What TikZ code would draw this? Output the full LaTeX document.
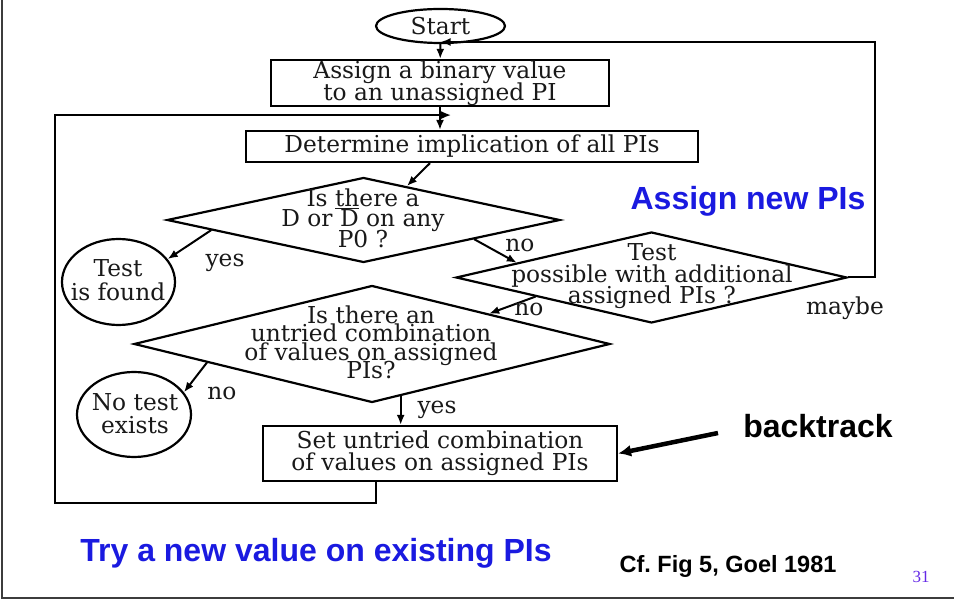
\documentclass[tikz,border=0pt]{standalone}
\usepackage{fontspec}
\newfontfamily\slidesans{Liberation Sans}
\newfontfamily\slideserif{Liberation Serif}
\newfontfamily\flowserif{DejaVu Serif}
\usetikzlibrary{arrows.meta,shapes.geometric,calc}
\definecolor{slideblue}{RGB}{26,26,224}
\definecolor{pagenum}{RGB}{100,40,230}
\definecolor{frameline}{RGB}{60,60,60}
\definecolor{flowink}{RGB}{25,25,25}
% flowchart text: tight leading that is allowed to overlap
\newcommand\flowfont[1][22]{\flowserif\fontsize{23.3}{#1}\selectfont\lineskiplimit=-100pt\lineskip=0pt}

\begin{document}
\begin{tikzpicture}[x=1pt,y=-1pt,
  flow/.style={line width=2.2pt,draw=black},
  proc/.style={flow,rectangle,inner sep=0pt,font=\flowfont,text=flowink,align=center},
  term/.style={flow,ellipse,inner sep=0pt},
  dec/.style={flow,diamond,inner sep=0pt},
  ftext/.style={font=\flowfont[#1],text=flowink,align=center,inner sep=0pt},
  ftext/.default=22,
  lbl/.style={font=\flowfont,text=flowink,inner sep=0pt},
  conn/.style={line width=2pt,-{Latex[length=10pt,width=8pt]}},
  note/.style={font=\slidesans\bfseries\fontsize{32}{35}\selectfont,text=slideblue,inner sep=0pt},
]
\useasboundingbox (0,0) rectangle (954,601);

% slide frame
\draw[frameline,line width=1.5pt] (2,0) -- (2,598) -- (954,598);

% flowchart nodes
\node[term,minimum width=129pt,minimum height=34pt] (start) at (440.5,26) {};
\node[ftext] (startt) at (440.5,26) {Start};
\node[proc,minimum width=338pt,minimum height=46pt] (assign) at (440,83)
  {Assign a binary value\\to an unassigned PI};
\node[proc,minimum width=452pt,minimum height=31pt] (imply) at (472,146.5)
  {Determine implication of all PIs};

\node[dec,minimum width=393pt,minimum height=85pt] (d1) at (363.5,220) {};
\node[ftext=20.5] (d1t) at (363,218)
  {Is \underline{th}ere a\\D or $\overline{\hbox{D}}$ on any\\P0 ?};

\node[dec,minimum width=391pt,minimum height=91pt] (d2) at (651.5,277.5) {};
\node[ftext=21.5] (d2t) at (652,276.5)
  {Test\\possible with additional\\assigned PIs ?};

\node[dec,minimum width=476pt,minimum height=117pt] (d3) at (372,344) {};
\node[ftext=18.5] (d3t) at (371,342.5)
  {Is there an\\untried combination\\of values on assigned\\PIs?};

\node[term,minimum width=113pt,minimum height=86pt] (found) at (118.5,282) {};
\node[ftext=24] (foundt) at (118,280.5) {Test\\is found};

\node[term,minimum width=114pt,minimum height=85pt] (noexist) at (134,414.5) {};
\node[ftext=23] (noexistt) at (135,413.5) {No test\\exists};

\node[proc,minimum width=354pt,minimum height=55pt] (retry) at (440,453.5)
  {Set untried combination\\of values on assigned PIs};

% helper points for the loops
\coordinate (join) at ($(assign.south)!0.35!(imply.north)$);
\coordinate (loopcorner) at (55,503);
\coordinate (maybecorner) at (875,42);
\coordinate (d3yes) at ($(d3.south)!0.12!(d3.east)$);

% connectors
\draw[conn] (start) -- (assign);
\draw[conn] (assign.south) -- (assign.south |- imply.north);
\draw[conn] ([xshift=-42pt]imply.south) -- ($(d1.north)!0.22!(d1.east)$);
\draw[conn] ($(d1.west)!0.23!(d1.south)$) -- (found.25);
\draw[conn] ($(d1.south)!0.56!(d1.east)$) -- ($(d2.west)!0.315!(d2.north)$);
\draw[conn] ($(d2.west)!0.41!(d2.south)$) -- ($(d3.north)!0.49!(d3.east)$);
\draw[conn] ($(d3.west)!0.31!(d3.south)$) -- (noexist.24);
\draw[conn] (d3yes) -- (d3yes |- retry.north);
\draw[conn] (d2.east) -| (maybecorner) -- (maybecorner -| start.south);
\draw[conn] ([xshift=-64pt]retry.south) |- (loopcorner) |- (join);

% branch labels
\node[lbl] (yes1) at (225,263) {yes};
\node[lbl] (no1) at (520,245) {no};
\node[lbl] (no2) at (529,309) {no};
\node[lbl] (maybe) at (845,308) {maybe};
\node[lbl] (no3) at (222,393) {no};
\node[lbl] (yes2) at (437,410) {yes};

% annotations
\node[note] (newpis) at (748,201) {Assign new PIs};
\node[note] (tryval) at (316,553) {Try a new value on existing PIs};
\node[note,text=black] (bt) at (818,426) {backtrack};
\coordinate (btfrom) at (718,433);
\draw[line width=4.5pt,-{Latex[length=13pt,width=12pt]}] (btfrom) -- (retry.east);
\node[font=\slidesans\bfseries\fontsize{23.5}{26}\selectfont,inner sep=0pt] (cite) at (728,566) {Cf.\ Fig 5, Goel 1981};
\node[font=\slideserif\fontsize{17}{19}\selectfont,text=pagenum,inner sep=0pt] (pg) at (921,577) {31};
\end{tikzpicture}
\end{document}
